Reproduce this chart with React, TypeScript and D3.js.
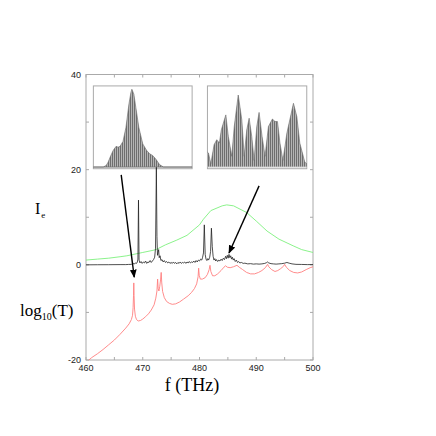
import React from 'react';
import * as d3 from 'd3';

// axis ticks
const xTicks = [460, 470, 480, 490, 500];
const xMinor = [465, 475, 485, 495];
const yTicks = [40, 20, 0, -20];
const yMinor = [30, 10, -10];

// green: exciting pulse spectrum
const pulseF = [460, 462, 464, 466, 467.2, 468, 470, 472, 472.5, 474, 476, 477.8, 480, 480.7, 482, 484, 484.8, 486, 488.3, 490, 491.9, 494, 496.5, 498, 500];
const pulseV = [1.0, 1.2, 1.4, 1.7, 1.9, 2.1, 2.6, 3.1, 3.3, 4.2, 5.2, 6.2, 8.4, 9.6, 11.4, 12.4, 12.6, 12.4, 11.0, 9.2, 7.1, 5.4, 4.0, 3.2, 2.6];

// black: I_e
const ieF = [460, 462, 464, 466, 467, 467.5, 468, 468.3, 468.5, 468.7, 468.9, 469.05, 469.15, 469.25, 469.35, 469.5, 469.7, 469.9, 470.1, 470.3, 470.5, 470.7, 470.9, 471.1, 471.3, 471.5, 471.7, 471.9, 472.1, 472.25, 472.4, 472.5, 472.6, 472.7, 472.8, 472.9, 473.05, 473.2, 473.4, 473.6, 473.8, 474.0, 474.2, 474.4, 474.6, 474.8, 475.0, 475.2, 475.4, 475.6, 475.8, 476.0, 476.2, 476.4, 476.6, 476.8, 477.0, 477.2, 477.4, 477.6, 477.8, 478.0, 478.2, 478.4, 478.6, 478.8, 479.0, 479.2, 479.4, 479.6, 479.8, 480.0, 480.2, 480.4, 480.55, 480.7, 480.85, 481.0, 481.15, 481.3, 481.45, 481.6, 481.8, 481.95, 482.1, 482.25, 482.4, 482.55, 482.7, 482.85, 483.0, 483.2, 483.4, 483.6, 483.8, 484.0, 484.2, 484.4, 484.6, 484.75, 484.9, 485.05, 485.2, 485.35, 485.5, 485.65, 485.8, 485.95, 486.1, 486.3, 486.5, 486.7, 486.9, 487.1, 487.4, 487.7, 488, 488.5, 489, 489.5, 490, 490.5, 491, 491.5, 491.8, 492.0, 492.2, 492.6, 493, 493.5, 494, 494.5, 495, 495.4, 495.8, 496.3, 497, 498, 499, 500];
const ieV = [0, 0.02, 0.03, 0.05, 0.05, 0.08, 0.1, 0.3, 0.15, 0.4, 0.3, 0.6, 1.2, 13.6, 1.0, 0.4, 0.7, 0.3, 0.6, 0.4, 0.8, 0.3, 0.6, 0.5, 0.9, 0.5, 0.8, 1.1, 1.6, 3.5, 20.5, 6.0, 2.0, 2.6, 3.2, 1.5, 1.9, 0.9, 1.1, 0.6, 0.9, 0.5, 0.7, 0.4, 0.6, 0.3, 0.5, 0.3, 0.6, 0.3, 0.5, 0.2, 0.5, 0.3, 0.6, 0.3, 0.5, 0.4, 0.6, 0.3, 0.6, 0.4, 0.7, 0.4, 0.6, 0.5, 0.8, 0.5, 0.9, 0.6, 1.0, 0.8, 1.2, 1.0, 1.6, 2.5, 8.4, 2.2, 1.2, 0.9, 1.3, 1.0, 1.6, 2.8, 7.7, 3.8, 1.8, 1.0, 1.3, 0.8, 1.1, 0.7, 1.0, 0.8, 1.2, 0.9, 1.4, 1.1, 1.8, 1.3, 2.0, 1.4, 2.2, 1.5, 1.9, 1.2, 1.6, 1.0, 1.3, 0.7, 1.0, 0.5, 0.7, 0.4, 0.5, 0.3, 0.35, 0.2, 0.25, 0.15, 0.2, 0.15, 0.2, 0.3, 0.45, 0.6, 0.4, 0.25, 0.2, 0.15, 0.2, 0.25, 0.35, 0.5, 0.35, 0.2, 0.1, 0.08, 0.05, 0.05];

// red: log10(T)
const tF = [460.5, 461, 462, 463, 464, 465, 466, 467, 467.6, 468.0, 468.2, 468.3, 468.37, 468.42, 468.47, 468.55, 468.7, 468.9, 469.2, 469.6, 470, 470.5, 471, 471.5, 472, 472.3, 472.5, 472.62, 472.72, 472.85, 473.0, 473.15, 473.25, 473.35, 473.5, 473.8, 474.2, 474.7, 475.2, 475.8, 476.5, 477.2, 478, 478.6, 479.1, 479.5, 479.75, 479.85, 479.95, 480.15, 480.5, 481, 481.4, 481.7, 481.85, 482.0, 482.3, 482.7, 483.2, 483.8, 484.3, 484.6, 484.9, 485.4, 486, 486.6, 487, 487.6, 488.3, 489, 489.7, 490.4, 491, 491.6, 492.0, 492.2, 492.7, 493.3, 493.8, 494.3, 494.8, 495.0, 495.3, 495.9, 496.6, 497.3, 498, 498.8, 499.5, 500];
const tV = [-20, -19.5, -18.7, -17.8, -16.8, -15.8, -14.6, -13.3, -12.4, -11.5, -10.6, -9.0, -6.5, -3.8, -6.5, -9.3, -10.8, -11.5, -11.8, -11.7, -11.4, -10.9, -10.3, -9.5, -8.4, -7.0, -5.5, -3.0, -5.0, -5.5, -4.5, -3.0, -1.6, -3.8, -5.6, -6.9, -7.7, -8.1, -8.3, -8.2, -7.8, -7.2, -6.5, -5.8, -5.0, -4.0, -2.5, -0.7, -2.2, -3.0, -3.0, -2.7, -2.0, -1.0, -0.1, -1.4, -2.3, -2.3, -1.9, -1.2, -0.5, -0.2, -0.5, -0.6, -0.4, -0.1, -0.5, -1.0, -1.6, -1.9, -1.9, -1.6, -1.2, -0.6, 0.1, -0.4, -1.0, -1.4, -1.2, -0.8, -0.3, 0.1, -0.5, -1.2, -1.6, -1.7, -1.5, -1.0, -0.6, -0.4];

// inset envelopes (relative 0..1)
const leftInsetX = [0, 0.1, 0.13, 0.15, 0.17, 0.2, 0.23, 0.25, 0.27, 0.3, 0.33, 0.36, 0.38, 0.39, 0.41, 0.43, 0.46, 0.5, 0.54, 0.57, 0.6, 0.63, 0.67, 0.71, 1];
const leftInsetY = [0.02, 0.02, 0.04, 0.08, 0.14, 0.22, 0.27, 0.26, 0.27, 0.33, 0.5, 0.78, 0.92, 0.96, 0.9, 0.74, 0.5, 0.3, 0.22, 0.18, 0.16, 0.12, 0.05, 0.02, 0.02];
const rightInsetX = [0, 0.01, 0.034, 0.067, 0.094, 0.12, 0.14, 0.185, 0.21, 0.245, 0.27, 0.31, 0.346, 0.37, 0.396, 0.42, 0.446, 0.47, 0.497, 0.52, 0.55, 0.58, 0.614, 0.654, 0.68, 0.705, 0.73, 0.76, 0.8, 0.866, 0.9, 0.93, 0.98, 1];
const rightInsetY = [0.2, 0.19, 0.06, 0.29, 0.35, 0.31, 0.47, 0.65, 0.39, 0.15, 0.51, 0.89, 0.59, 0.15, 0.47, 0.61, 0.39, 0.1, 0.51, 0.68, 0.39, 0.15, 0.51, 0.6, 0.57, 0.57, 0.31, 0.1, 0.43, 0.79, 0.63, 0.31, 0.08, 0.06];

const W = 436, H = 436;
const frame = { left: 86, right: 313, top: 74.5, bottom: 360 };

const x = d3.scaleLinear().domain([460, 500]).range([frame.left, frame.right]);
const y = d3.scaleLinear().domain([-20, 40]).range([frame.bottom, frame.top]);

const insets = [
  { f0: 461.3, f1: 478.7, xs: leftInsetX, ys: leftInsetY },
  { f0: 481.4, f1: 498.9, xs: rightInsetX, ys: rightInsetY },
];
const insetY0 = 20.2, insetY1 = 37.6;

const arrows = [
  { f0: 466.2, v0: 18.9, f1: 468.5, v1: -2.6 },
  { f0: 490.5, v0: 16.6, f1: 485.2, v1: 2.5 },
];

const toPts = (fs: number[], vs: number[]) => fs.map((f, i) => [f, vs[i]] as [number, number]);

const lineXY = d3.line<[number, number]>().x(d => x(d[0])).y(d => y(d[1]));

export default function App() {
  const tickFont = '"Liberation Sans Narrow", "Liberation Sans", sans-serif';
  const serif = '"Liberation Serif", "Times New Roman", serif';
  return (
    <svg width={W} height={H} style={{ position: 'absolute', left: 0, top: 0, background: '#fff' }}>
      <defs>
        <pattern id="stripes" width="2" height="4" patternUnits="userSpaceOnUse">
          <rect x="0" y="0" width="1" height="4" fill="#6e6e6e" />
          <rect x="1" y="0" width="1" height="4" fill="#b4b4b4" />
        </pattern>
        <marker id="arrow" viewBox="0 0 10 10" refX="9" refY="5" markerWidth="6" markerHeight="7" orient="auto">
          <path d="M0,1 L10,5 L0,9 z" fill="#000" />
        </marker>
      </defs>

      {/* frame */}
      <rect x={frame.left} y={frame.top} width={frame.right - frame.left} height={frame.bottom - frame.top}
        fill="none" stroke="#aaa" strokeWidth={1} />

      {/* ticks */}
      {[...xTicks, ...xMinor].map(t => (
        <g key={'xt' + t} stroke="#aaa">
          <line x1={x(t)} x2={x(t)} y1={frame.bottom} y2={frame.bottom - 3} />
          <line x1={x(t)} x2={x(t)} y1={frame.top} y2={frame.top + 3} />
        </g>
      ))}
      {[...yTicks, ...yMinor].map(t => (
        <g key={'yt' + t} stroke="#aaa">
          <line x1={frame.left} x2={frame.left + 3} y1={y(t)} y2={y(t)} />
          <line x1={frame.right} x2={frame.right - 3} y1={y(t)} y2={y(t)} />
        </g>
      ))}
      {xTicks.map(t => (
        <text key={'xl' + t} x={x(t)} y={frame.bottom + 11} textAnchor="middle"
          fontFamily={tickFont} fontSize={9} fill="#222">{t}</text>
      ))}
      {yTicks.map(t => (
        <text key={'yl' + t} x={frame.left - 5} y={y(t) + 3} textAnchor="end"
          fontFamily={tickFont} fontSize={9} fill="#222">{t}</text>
      ))}

      {/* insets */}
      {insets.map((ins, k) => {
        const ix = d3.scaleLinear().domain([0, 1]).range([x(ins.f0), x(ins.f1)]);
        const iy = d3.scaleLinear().domain([0, 1]).range([y(insetY0), y(insetY1)]);
        const pts = ins.xs.map((v, i) => [v, ins.ys[i]] as [number, number]);
        const area = d3.area<[number, number]>().x(d => ix(d[0])).y0(iy(0.02)).y1(d => iy(d[1]));
        const top = d3.line<[number, number]>().x(d => ix(d[0])).y(d => iy(d[1]));
        return (
          <g key={'in' + k}>
            <rect x={ix(0)} y={iy(1)} width={ix(1) - ix(0)} height={iy(0) - iy(1)} fill="#fff" stroke="#aaa" strokeWidth={1} />
            <path d={area(pts) ?? ''} fill="url(#stripes)" />
            <path d={top(pts) ?? ''} fill="none" stroke="#666" strokeWidth={0.6} />
            <line x1={ix(0)} x2={ix(1)} y1={iy(0.02)} y2={iy(0.02)} stroke={k === 0 ? '#777' : '#ccc'} strokeWidth={1} />
          </g>
        );
      })}

      {/* curves */}
      <path d={lineXY(toPts(pulseF, pulseV)) ?? ''} fill="none" stroke="#7ef07e" strokeWidth={0.9} />
      <path d={lineXY(toPts(tF, tV)) ?? ''} fill="none" stroke="#ff7f7f" strokeWidth={0.9} />
      <path d={lineXY(toPts(ieF, ieV)) ?? ''} fill="none" stroke="#222" strokeWidth={0.8} />

      {/* arrows */}
      {arrows.map((a, i) => (
        <line key={'ar' + i} x1={x(a.f0)} y1={y(a.v0)} x2={x(a.f1)} y2={y(a.v1)}
          stroke="#000" strokeWidth={1.4} markerEnd="url(#arrow)" />
      ))}

      {/* labels */}
      <text x={35} y={214} fontFamily={serif} fontSize={16} fill="#000">
        I<tspan fontSize={9} dy={4} dx={1}>e</tspan>
      </text>
      <text x={20} y={316} fontFamily={serif} fontSize={17} fill="#000">
        log<tspan fontSize={10} dy={4}>10</tspan><tspan dy={-4}>(T)</tspan>
      </text>
      <text x={192} y={391} textAnchor="middle" fontFamily={serif} fontSize={18} fill="#000">f (THz)</text>
    </svg>
  );
}
